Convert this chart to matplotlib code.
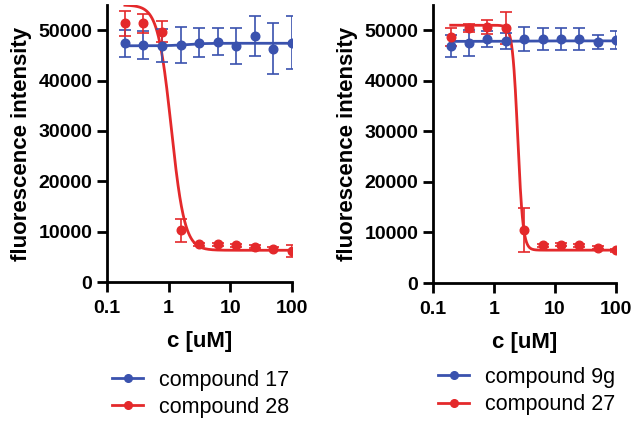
import numpy as np
import matplotlib
matplotlib.use("Agg")
import matplotlib.pyplot as plt
from matplotlib.lines import Line2D

plt.rcParams['font.family'] = ['Liberation Sans', 'DejaVu Sans']

# concentrations (uM), 2-fold dilution series
conc = [0.195, 0.39, 0.78, 1.5625, 3.125, 6.25, 12.5, 25, 50, 100]

# left panel
c17_mean = [47400, 47070, 46900, 47070, 47540, 47740, 46870, 48870, 46340, 47540]
c17_err = [2700, 2700, 3300, 3500, 2900, 2700, 3500, 4000, 5000, 5300]
c28_mean = [51330, 51330, 49730, 10300, 7450, 7450, 7300, 7000, 6650, 6200]
c28_err = [2500, 1800, 2000, 2300, 300, 300, 300, 300, 300, 1200]

# right panel
c9g_mean = [46960, 47490, 48280, 47820, 48280, 48280, 48280, 48280, 47690, 48020]
c9g_err = [2200, 2500, 1500, 1600, 2400, 2100, 2200, 2200, 1400, 1800]
c27_mean = [48680, 50460, 50660, 50460, 10450, 7470, 7600, 7470, 6940, 6480]
c27_err = [1800, 800, 1300, 3100, 4400, 300, 300, 300, 300, 300]

# 4PL fit parameters: top, bottom, IC50, hill
fit17 = [46900, 47400, 2.0, 3.0]
fit28 = [55000, 6300, 1.1, 4.0]
fit9g = [47800, 47900, 2.0, 2.0]
fit27 = [51000, 6500, 2.45, 10.0]

blue = '#3a52ae'
red = '#e4292b'


def four_pl(x, p):
    top, bottom, ic50, h = p
    return bottom + (top - bottom) / (1 + (x / ic50) ** h)


fig = plt.figure(figsize=(6.37, 4.23), dpi=100)
ax1 = fig.add_axes([107/637, 141/423, 185/637, 277/423])
ax2 = fig.add_axes([433/637, 140/423, 183/637, 278/423])

xs = np.logspace(np.log10(conc[0]), np.log10(conc[-1]), 400)

panels = [
    (ax1, c17_mean, c17_err, fit17, c28_mean, c28_err, fit28, 'compound 17', 'compound 28', -0.285),
    (ax2, c9g_mean, c9g_err, fit9g, c27_mean, c27_err, fit27, 'compound 9g', 'compound 27', -0.27),
]

for ax, bm, be, bf, rm, re, rf, bl, rl, ly in panels:
    for m, e, f, col in [(bm, be, bf, blue), (rm, re, rf, red)]:
        ax.plot(xs, four_pl(xs, f), color=col, lw=2, zorder=2)
        ax.errorbar(conc, m, yerr=e, fmt='o', color=col, ms=6.2, elinewidth=1.2,
                    capsize=4.3, capthick=1.2, zorder=3)
    ax.set_xscale('log')
    ax.set_xlim(0.1, 100)
    ax.set_ylim(0, 55000)
    ax.set_xticks([0.1, 1, 10, 100])
    ax.set_xticklabels(['0.1', '1', '10', '100'])
    ax.xaxis.set_minor_locator(matplotlib.ticker.NullLocator())
    ax.set_yticks([0, 10000, 20000, 30000, 40000, 50000])
    ax.set_yticklabels(['0', '10000', '20000', '30000', '40000', '50000'])
    for s in ['top', 'right']:
        ax.spines[s].set_visible(False)
    for s in ['left', 'bottom']:
        ax.spines[s].set_linewidth(2)
    ax.tick_params(direction='out', length=7, width=2, labelsize=14, pad=3.5)
    ax.tick_params(axis='x', pad=6)
    for lab in ax.get_xticklabels() + ax.get_yticklabels():
        lab.set_fontweight('bold')
    ax.set_xlabel('c [uM]', fontsize=16, fontweight='bold', labelpad=10)
    ax.set_ylabel('fluorescence intensity', fontsize=16, fontweight='bold', labelpad=5)
    handles = [Line2D([], [], color=blue, marker='o', ms=5.5, lw=2),
               Line2D([], [], color=red, marker='o', ms=5.5, lw=2)]
    ax.legend(handles, [bl, rl], loc='upper left', frameon=False, fontsize=15.5,
              handlelength=1.45, handletextpad=0.75, labelspacing=0.3,
              bbox_to_anchor=(-0.02, ly), borderaxespad=0)

fig.savefig('out.png', dpi=100)
